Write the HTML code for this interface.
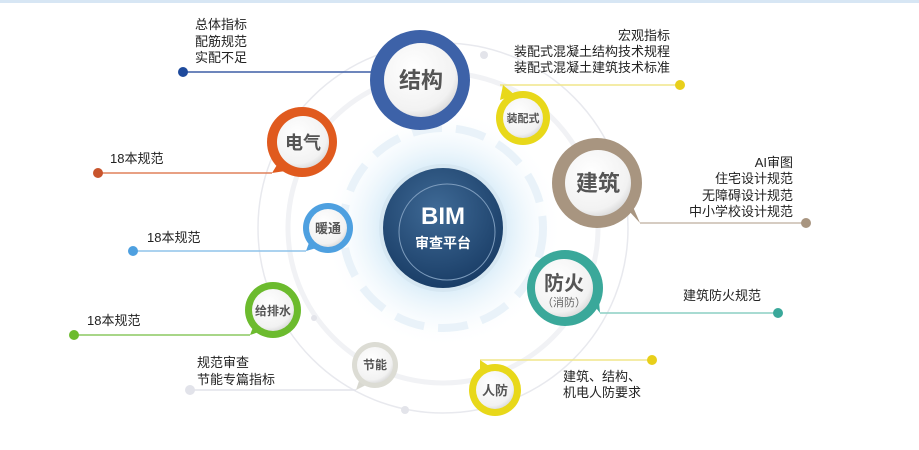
<!DOCTYPE html>
<html><head><meta charset="utf-8"><style>
body{margin:0;background:#fff;width:919px;height:445px;overflow:hidden}
svg text{font-family:"Liberation Sans","Noto Sans CJK SC",sans-serif}
</style></head><body>
<svg width="919" height="445" viewBox="0 0 919 445">
<defs>
<radialGradient id="glow" cx="50%" cy="50%" r="50%">
<stop offset="50%" stop-color="#d6ebf8" stop-opacity="0.9"/>
<stop offset="100%" stop-color="#ffffff" stop-opacity="0"/>
</radialGradient>
<radialGradient id="core" cx="45%" cy="35%" r="70%">
<stop offset="0%" stop-color="#3f6a96"/>
<stop offset="100%" stop-color="#173a63"/>
</radialGradient>
<radialGradient id="inner" cx="40%" cy="35%" r="70%">
<stop offset="0%" stop-color="#ffffff"/>
<stop offset="80%" stop-color="#f2f2f2"/>
<stop offset="100%" stop-color="#d8d8d8"/>
</radialGradient>
</defs>
<rect x="0" y="0" width="919" height="3" fill="#d7e6f4"/>
<circle cx="443" cy="228" r="185" fill="none" stroke="#e8e9ee" stroke-width="1.5"/>
<circle cx="443" cy="228" r="155" fill="none" stroke="#f1f2f5" stroke-width="5"/>
<circle cx="443" cy="228" r="120" fill="url(#glow)"/>
<circle cx="443" cy="228" r="100" fill="none" stroke="#e9f2f9" stroke-width="8" stroke-dasharray="30 14"/>
<circle cx="484" cy="55" r="4" fill="#e3e4ea"/>
<circle cx="405" cy="410" r="4" fill="#e3e4ea"/>
<circle cx="314" cy="318" r="3" fill="#e3e4ea"/>
<circle cx="443" cy="228" r="64" fill="#d6e7f2"/>
<circle cx="443" cy="228" r="60" fill="url(#core)"/>
<circle cx="447" cy="232" r="48" fill="none" stroke="#7d9cbd" stroke-width="1"/>
<text x="443" y="224" font-size="24" font-weight="bold" fill="#fff" text-anchor="middle">BIM</text>
<text x="443" y="248" font-size="14" font-weight="bold" fill="#fff" text-anchor="middle">审查平台</text>
<g stroke-width="1.5">
<line x1="183" y1="72" x2="372" y2="72" stroke="#3d5fa5"/>
<line x1="98" y1="173" x2="272" y2="173" stroke="#e0805a"/>
<line x1="133" y1="251" x2="306" y2="251" stroke="#8fc3ea"/>
<line x1="74" y1="335" x2="250" y2="335" stroke="#8cc860"/>
<line x1="190" y1="390" x2="356" y2="390" stroke="#e2e3ea"/>
<line x1="500" y1="85" x2="680" y2="85" stroke="#f0e68a"/>
<line x1="640" y1="223" x2="806" y2="223" stroke="#c9bcae"/>
<line x1="600" y1="313" x2="778" y2="313" stroke="#8ccfc4"/>
<line x1="480" y1="360" x2="652" y2="360" stroke="#f0e68a"/>
</g>
<circle cx="183" cy="72" r="5" fill="#1e4a9c"/>
<circle cx="98" cy="173" r="5" fill="#c8542c"/>
<circle cx="133" cy="251" r="5" fill="#4ea0e0"/>
<circle cx="74" cy="335" r="5" fill="#6cbb2e"/>
<circle cx="190" cy="390" r="5" fill="#e2e3ea"/>
<circle cx="680" cy="85" r="5" fill="#e8cf1a"/>
<circle cx="806" cy="223" r="5" fill="#a89580"/>
<circle cx="778" cy="313" r="5" fill="#3aa89a"/>
<circle cx="652" cy="360" r="5" fill="#e8cf1a"/>
<g>
<path d="M380 95 L372 72 L395 82 Z" fill="#3d62a8"/>
<circle cx="420" cy="80" r="50" fill="#3d62a8"/><circle cx="421" cy="80" r="37" fill="url(#inner)"/>
<text x="421" y="88" font-size="22" font-weight="bold" fill="#555" text-anchor="middle">结构</text>
<path d="M280 160 L272 173 L292 170 Z" fill="#e05a1e"/>
<circle cx="302" cy="142" r="35" fill="#e05a1e"/><circle cx="303" cy="142" r="26" fill="url(#inner)"/>
<text x="303" y="149" font-size="18" font-weight="bold" fill="#555" text-anchor="middle">电气</text>
<path d="M500 100 L503 85 L515 95 Z" fill="#e8d81a"/>
<circle cx="523" cy="118" r="27" fill="#e8d81a"/><circle cx="523" cy="118" r="20" fill="url(#inner)"/>
<text x="523" y="122" font-size="11" font-weight="bold" fill="#555" text-anchor="middle">装配式</text>
<path d="M628 210 L640 223 L630 200 Z" fill="#a89580"/>
<circle cx="597" cy="183" r="45" fill="#a89580"/><circle cx="598" cy="183" r="33" fill="url(#inner)"/>
<text x="598" y="191" font-size="22" font-weight="bold" fill="#555" text-anchor="middle">建筑</text>
<path d="M310 240 L306 251 L320 247 Z" fill="#4ea0e0"/>
<circle cx="328" cy="228" r="25" fill="#4ea0e0"/><circle cx="328" cy="228" r="19" fill="url(#inner)"/>
<text x="328" y="233" font-size="13" font-weight="bold" fill="#555" text-anchor="middle">暖通</text>
<path d="M590 300 L600 313 L598 290 Z" fill="#3aa89a"/>
<circle cx="565" cy="288" r="38" fill="#3aa89a"/><circle cx="564" cy="288" r="29" fill="url(#inner)"/>
<text x="564" y="290" font-size="20" font-weight="bold" fill="#555" text-anchor="middle">防火</text>
<text x="564" y="306" font-size="11" fill="#666" text-anchor="middle">（消防）</text>
<path d="M255 322 L250 335 L265 330 Z" fill="#6cbb2e"/>
<circle cx="273" cy="310" r="28" fill="#6cbb2e"/><circle cx="273" cy="310" r="21" fill="url(#inner)"/>
<text x="273" y="315" font-size="12" font-weight="bold" fill="#555" text-anchor="middle">给排水</text>
<path d="M360 378 L356 390 L370 383 Z" fill="#d8d8d0"/>
<circle cx="375" cy="365" r="23" fill="#dcdcd4"/><circle cx="375" cy="365" r="18" fill="url(#inner)"/>
<text x="375" y="369" font-size="12" font-weight="bold" fill="#555" text-anchor="middle">节能</text>
<path d="M480 375 L480 360 L492 368 Z" fill="#e8d81a"/>
<circle cx="495" cy="390" r="26" fill="#e8d81a"/><circle cx="495" cy="390" r="19" fill="url(#inner)"/>
<text x="495" y="395" font-size="13" font-weight="bold" fill="#555" text-anchor="middle">人防</text>
</g>
<g font-size="13" fill="#222">
<text x="195" y="29">总体指标</text><text x="195" y="46">配筋规范</text><text x="195" y="62">实配不足</text>
<text x="110" y="163">18本规范</text>
<text x="147" y="242">18本规范</text>
<text x="87" y="325">18本规范</text>
<text x="197" y="367">规范审查</text><text x="197" y="384">节能专篇指标</text>
<g text-anchor="end">
<text x="670" y="40">宏观指标</text><text x="670" y="56">装配式混凝土结构技术规程</text><text x="670" y="72">装配式混凝土建筑技术标准</text>
<text x="793" y="167">AI审图</text><text x="793" y="183">住宅设计规范</text><text x="793" y="200">无障碍设计规范</text><text x="793" y="216">中小学校设计规范</text>
</g>
<text x="683" y="300">建筑防火规范</text>
<text x="563" y="381">建筑、结构、</text><text x="563" y="397">机电人防要求</text>
</g>
</svg>
</body></html>
